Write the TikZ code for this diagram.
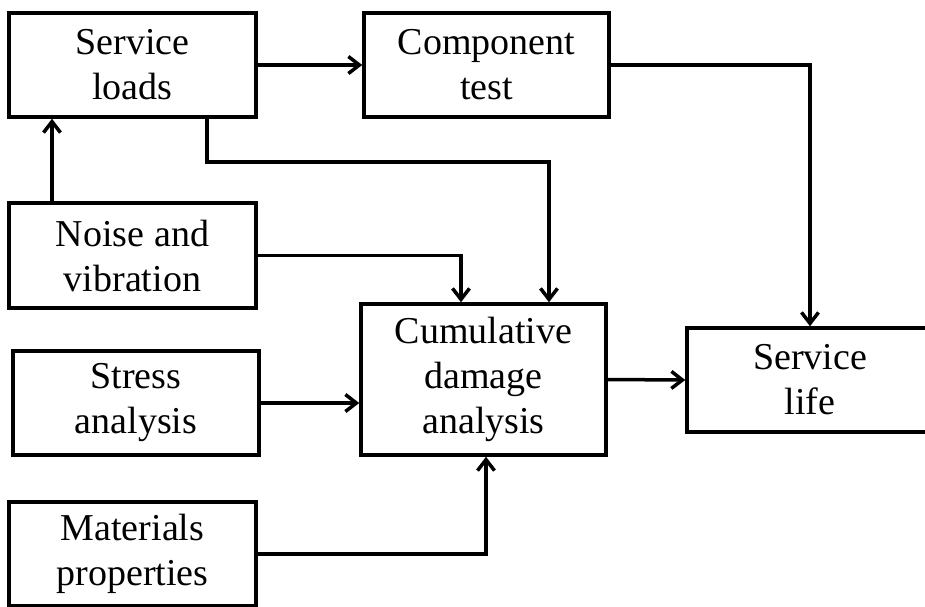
\documentclass[tikz,border=0pt]{standalone}
\usepackage{fontspec}
\setmainfont{Liberation Serif}
\usetikzlibrary{arrows.meta}
\begin{document}
\begin{tikzpicture}[x=1pt,y=-1pt,
  box/.style={draw,line width=3.5pt,align=center,inner sep=0pt,font=\fontsize{38}{45}\selectfont},
  arr/.style={line width=3.5pt,-{Straight Barb[length=11pt,width=17pt,line width=3.5pt]}},
  ln/.style={line width=3.5pt}]
\useasboundingbox (0,0) rectangle (925,606);
\clip (0,0) rectangle (925,606);
\node[box,minimum width=247pt,minimum height=104pt] (sl) at (132.5,65) {Service\\loads};
\node[box,minimum width=245pt,minimum height=104pt] (ct) at (486.5,65) {Component\\test};
\node[box,minimum width=247pt,minimum height=105pt] (nv) at (132.5,255.5) {Noise and\\vibration};
\node[box,minimum width=246pt,minimum height=104pt] (sa) at (136,403) {Stress\\analysis};
\node[box,minimum width=247pt,minimum height=104pt] (mp) at (132.5,554) {Materials\\properties};
\node[box,minimum width=245pt,minimum height=151pt] (cda) at (483.5,379.5) {Cumulative\\damage\\analysis};
\node[box,minimum width=246pt,minimum height=104pt] (life) at (810,380) {Service\\life};
\draw[arr] (sl.east) -- (ct.west);
\draw[arr] (ct.east) -| (life.north);
\draw[arr] ([xshift=74.5pt]sl.south) -- ++(0,43) -| ([xshift=65.5pt]cda.north);
\draw[arr] (nv.east) -| ([xshift=-22.5pt]cda.north);
\draw[arr] ([xshift=-80.5pt]nv.north) -- ([xshift=-80.5pt]sl.south);
\draw[arr] (sa.east) -- (sa.east -| cda.west);
\draw[arr] (mp.east) -| ([xshift=2.5pt]cda.south);
\draw[arr] (cda.east) -- (life.west);
\end{tikzpicture}
\end{document}
